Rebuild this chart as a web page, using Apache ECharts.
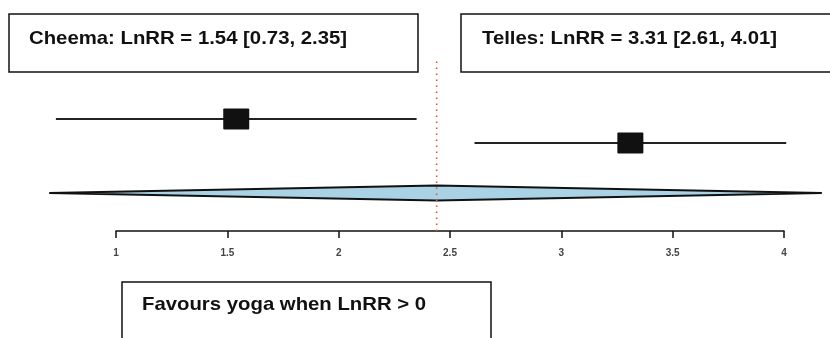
<!DOCTYPE html>
<html>
<head>
<meta charset="utf-8">
<script src="https://cdn.jsdelivr.net/npm/echarts@6/dist/echarts.min.js"></script>
<style>
html,body{margin:0;padding:0;background:#fff;}
#chart{width:830px;height:338px;}
</style>
</head>
<body>
<div id="chart"></div>
<script>
// ---- data ----
const studies = ['Cheema', 'Telles'];
const estimates = [1.54, 3.31];
const ciLower = [0.73, 2.61];
const ciUpper = [2.35, 4.01];
const pooledLower = 0.70;
const pooledEstimate = 2.44;
const pooledUpper = 4.17;
const tickValues = [1, 1.5, 2, 2.5, 3, 3.5, 4];
const tickLabels = ['1', '1.5', '2', '2.5', '3', '3.5', '4'];
const footnote = 'Favours yoga when LnRR > 0';

// ---- layout (row positions on hidden y axis) ----
const studyRows = [5.6, 4.4];
const pooledRow = 1.9;
const refLineTop = 8.55;

const chart = echarts.init(document.getElementById('chart'), null, {renderer: 'canvas'});

const studyData = studies.map((s, i) => [estimates[i], studyRows[i], ciLower[i], ciUpper[i]]);

const FONT = '"Liberation Sans", Arial, sans-serif';
function labelText(i) {
  return studies[i] + ': LnRR = ' + estimates[i].toFixed(2) + ' [' + ciLower[i].toFixed(2) + ', ' + ciUpper[i].toFixed(2) + ']';
}
function boxText(txt, x, y) {
  return {type: 'text', x: x, y: y, scaleX: 1.07, scaleY: 1,
    style: {text: txt, font: 'bold 19px ' + FONT, fill: '#111', verticalAlign: 'middle'}};
}

const option = {
  animation: false,
  backgroundColor: '#fff',
  grid: {left: 116, right: 46, top: 31, bottom: 107, containLabel: false},
  xAxis: {
    type: 'value', min: 1, max: 4, interval: 0.5,
    axisLine: {show: true, lineStyle: {color: '#111', width: 1.5}},
    axisTick: {show: true, inside: false, length: 7, lineStyle: {color: '#111', width: 1.5}},
    axisLabel: {
      margin: 17, fontSize: 10, fontWeight: 'bold', color: '#444', fontFamily: FONT,
      formatter: function (v) { const k = tickValues.indexOf(v); return k >= 0 ? tickLabels[k] : ''; }
    },
    splitLine: {show: false}
  },
  yAxis: {type: 'value', min: 0, max: 10, show: false, splitLine: {show: false}},
  series: [
    {
      type: 'custom', clip: false, z: 3,
      data: [[pooledLower, pooledEstimate, pooledUpper, pooledRow]],
      renderItem: function (params, api) {
        const l = api.coord([api.value(0), api.value(3)]);
        const c = api.coord([api.value(1), api.value(3)]);
        const r = api.coord([api.value(2), api.value(3)]);
        const h = 7.5;
        return {
          type: 'polygon',
          shape: {points: [[l[0], l[1]], [c[0], c[1] - h], [r[0], r[1]], [c[0], c[1] + h]]},
          style: {fill: '#a9d2e4', stroke: '#111', lineWidth: 2}
        };
      }
    },
    {
      type: 'custom', clip: false, z: 4,
      data: [[pooledEstimate, 0, refLineTop]],
      renderItem: function (params, api) {
        const b = api.coord([api.value(0), api.value(1)]);
        const t = api.coord([api.value(0), api.value(2)]);
        return {
          type: 'line',
          shape: {x1: b[0], y1: b[1], x2: t[0], y2: t[1]},
          style: {stroke: '#d9573a', lineWidth: 1.6, lineDash: [1.6, 4.4]}
        };
      }
    },
    {
      type: 'custom', clip: false, z: 5,
      data: studyData,
      renderItem: function (params, api) {
        const p = api.coord([api.value(0), api.value(1)]);
        const lo = api.coord([api.value(2), api.value(1)]);
        const hi = api.coord([api.value(3), api.value(1)]);
        const w = 26, hh = 21;
        return {
          type: 'group',
          children: [
            {type: 'line', shape: {x1: lo[0], y1: lo[1], x2: hi[0], y2: hi[1]}, style: {stroke: '#222', lineWidth: 2}},
            {type: 'rect', shape: {x: p[0] - w / 2, y: p[1] - hh / 2, width: w, height: hh, r: 1}, style: {fill: '#111'}}
          ]
        };
      }
    }
  ],
  graphic: [
    {type: 'rect', shape: {x: 9, y: 14, width: 409, height: 58}, style: {fill: '#fff', stroke: '#111', lineWidth: 1.5}},
    boxText(labelText(0), 29, 39),
    {type: 'rect', shape: {x: 461, y: 14, width: 380, height: 58}, style: {fill: '#fff', stroke: '#111', lineWidth: 1.5}},
    boxText(labelText(1), 482, 39),
    {type: 'rect', shape: {x: 122, y: 282, width: 369, height: 70}, style: {fill: '#fff', stroke: '#111', lineWidth: 1.5}},
    boxText(footnote, 142, 305)
  ]
};
chart.setOption(option);
</script>
</body>
</html>
